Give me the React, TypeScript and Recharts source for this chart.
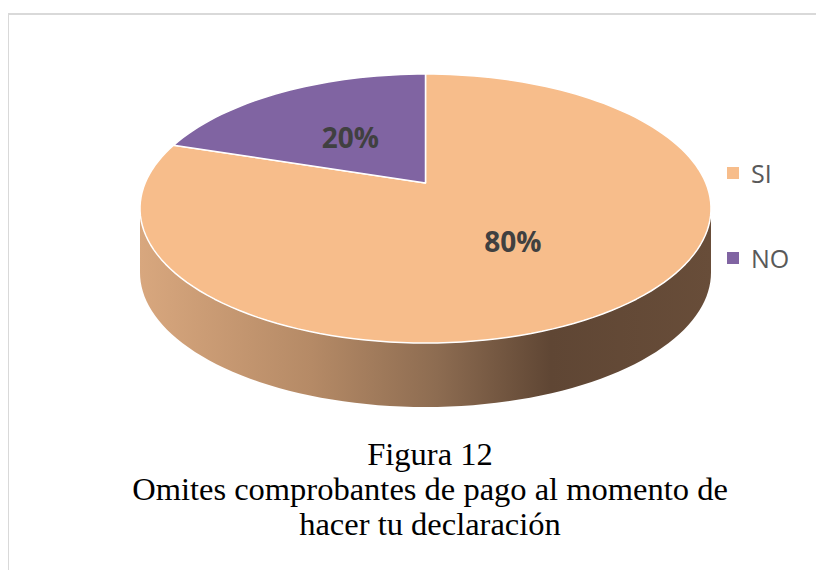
import React from "react";
import { PieChart, Pie, Cell, Legend } from "recharts";

const categories = ["SI", "NO"];
const values = [80, 20];
const sliceColors = ["#f7bd8b", "#8064a2"];

const titleLines = [
  "Figura 12",
  "Omites comprobantes de pago al momento de",
  "hacer tu declaración",
];

const data = categories.map((name, i) => ({ name, value: values[i] }));

// ellipse + perspective params for the fake 3d look
const RX = 285.5;
const RY = 134.5;
const VERT = 25.5; // how far the slice vertex sits above the ellipse centre
const P = (2 * VERT) / (2 * RY);
const AX = RX * Math.sqrt(1 - P * P);
const DEPTH = 64;
const SIDE = (Math.asin(P) * 180) / Math.PI;

function proj(cx: number, cy: number, deg: number, r = 1) {
  const t = (deg * Math.PI) / 180;
  const u = r * Math.cos(t);
  const v = r * Math.sin(t);
  const d = 1 + P * v;
  return { x: cx + (AX * u) / d, y: cy - (RY * v + VERT) / d };
}

function arcPoints(cx: number, cy: number, a1: number, a2: number, dy = 0) {
  const n = Math.max(2, Math.ceil(Math.abs(a2 - a1) / 2));
  const pts: string[] = [];
  for (let i = 0; i <= n; i++) {
    const p = proj(cx, cy, a1 + ((a2 - a1) * i) / n);
    pts.push(`${p.x.toFixed(2)},${(p.y + dy).toFixed(2)}`);
  }
  return pts;
}

function TopShape(props: any) {
  const { cx, cy, startAngle, endAngle, fill } = props;
  const c = proj(cx, cy, 0, 0);
  const pts = arcPoints(cx, cy, startAngle, endAngle);
  const d = `M${c.x},${c.y} L${pts.join(" L")} Z`;
  return <path d={d} fill={fill} stroke="#ffffff" strokeWidth={1.5} strokeLinejoin="round" />;
}

function WallShape(props: any) {
  const { cx, cy, startAngle, endAngle } = props;
  const lo = Math.min(startAngle, endAngle);
  const hi = Math.max(startAngle, endAngle);
  const parts: React.ReactNode[] = [];
  for (const k of [-360, 0, 360]) {
    const f1 = -180 + SIDE + k;
    const f2 = -SIDE + k;
    const a1 = Math.max(lo, f1);
    const a2 = Math.min(hi, f2);
    if (a2 <= a1) continue;
    const top = arcPoints(cx, cy, a1, a2);
    const bottom = arcPoints(cx, cy, a2, a1, DEPTH);
    parts.push(
      <path
        key={k}
        d={`M${top.join(" L")} L${bottom.join(" L")} Z`}
        fill="url(#wallGrad)"
        stroke="none"
      />
    );
  }
  return <g>{parts}</g>;
}

function renderLabel(props: any) {
  const { cx, cy, midAngle, percent } = props;
  const p = proj(cx, cy, midAngle, 0.49);
  return (
    <text
      x={p.x}
      y={p.y + 2}
      textAnchor="middle"
      dominantBaseline="central"
      fill="#404040"
      fontFamily="'Open Sans', sans-serif"
      fontWeight={700}
      fontSize={28}
    >
      {`${Math.round(percent * 100)}%`}
    </text>
  );
}

function renderLegend(props: any) {
  const seen = new Map<string, any>();
  for (const e of props.payload || []) {
    if (!seen.has(e.value)) seen.set(e.value, e);
  }
  const items = categories.filter((c) => seen.has(c)).map((c) => seen.get(c));
  return (
    <div>
      {items.map((entry: any) => (
        <div
          key={entry.value}
          style={{ display: "flex", alignItems: "center", height: 34, marginBottom: 51 }}
        >
          <span
            style={{ width: 12, height: 12, background: entry.color, display: "inline-block", marginRight: 12 }}
          />
          <span style={{ fontFamily: "'Open Sans', sans-serif", fontSize: 25, color: "#595959" }}>
            {entry.value}
          </span>
        </div>
      ))}
    </div>
  );
}

export default function App() {
  return (
    <div style={{ position: "relative", width: 824, height: 578, margin: -8, overflow: "hidden", background: "#fff" }}>
      <div
        style={{
          position: "absolute",
          left: 7,
          top: 13,
          width: 900,
          height: 700,
          border: "2px solid #d9d9d9",
        }}
      />
      <PieChart
        width={824}
        height={578}
        margin={{ top: 0, right: 0, bottom: 0, left: 0 }}
        style={{ position: "absolute", left: 0, top: 0 }}
      >
        <defs>
          <linearGradient id="wallGrad" gradientUnits="userSpaceOnUse" x1={140} y1={0} x2={711} y2={0}>
            <stop offset="0%" stopColor="#d8a77e" />
            <stop offset="30%" stopColor="#b58a66" />
            <stop offset="52%" stopColor="#8d6c51" />
            <stop offset="72%" stopColor="#5f4634" />
            <stop offset="100%" stopColor="#684d39" />
          </linearGradient>
        </defs>
        <Pie
          data={data}
          dataKey="value"
          nameKey="name"
          cx={425.5}
          cy={208.5}
          outerRadius={134}
          startAngle={90}
          endAngle={-270}
          legendType="none"
          isAnimationActive={false}
          shape={WallShape}
          activeShape={WallShape}
          inactiveShape={WallShape}
        >
          {data.map((d, i) => (
            <Cell key={d.name} fill={sliceColors[i]} />
          ))}
        </Pie>
        <Pie
          data={data}
          dataKey="value"
          nameKey="name"
          cx={425.5}
          cy={208.5}
          outerRadius={134}
          startAngle={90}
          endAngle={-270}
          legendType="square"
          label={renderLabel}
          labelLine={false}
          isAnimationActive={false}
          shape={TopShape}
          activeShape={TopShape}
          inactiveShape={TopShape}
        >
          {data.map((d, i) => (
            <Cell key={d.name} fill={sliceColors[i]} />
          ))}
        </Pie>
        <Legend
          content={renderLegend}
          wrapperStyle={{ position: "absolute", left: 727, top: 156, width: 90, height: 140 }}
        />
      </PieChart>
      <div
        style={{
          position: "absolute",
          left: 0,
          top: 437,
          width: 860,
          textAlign: "center",
          fontFamily: "'Liberation Serif', 'Times New Roman', serif",
          fontSize: 32.5,
          lineHeight: "35px",
          color: "#000",
        }}
      >
        {titleLines.map((t) => (
          <div key={t}>{t}</div>
        ))}
      </div>
    </div>
  );
}
